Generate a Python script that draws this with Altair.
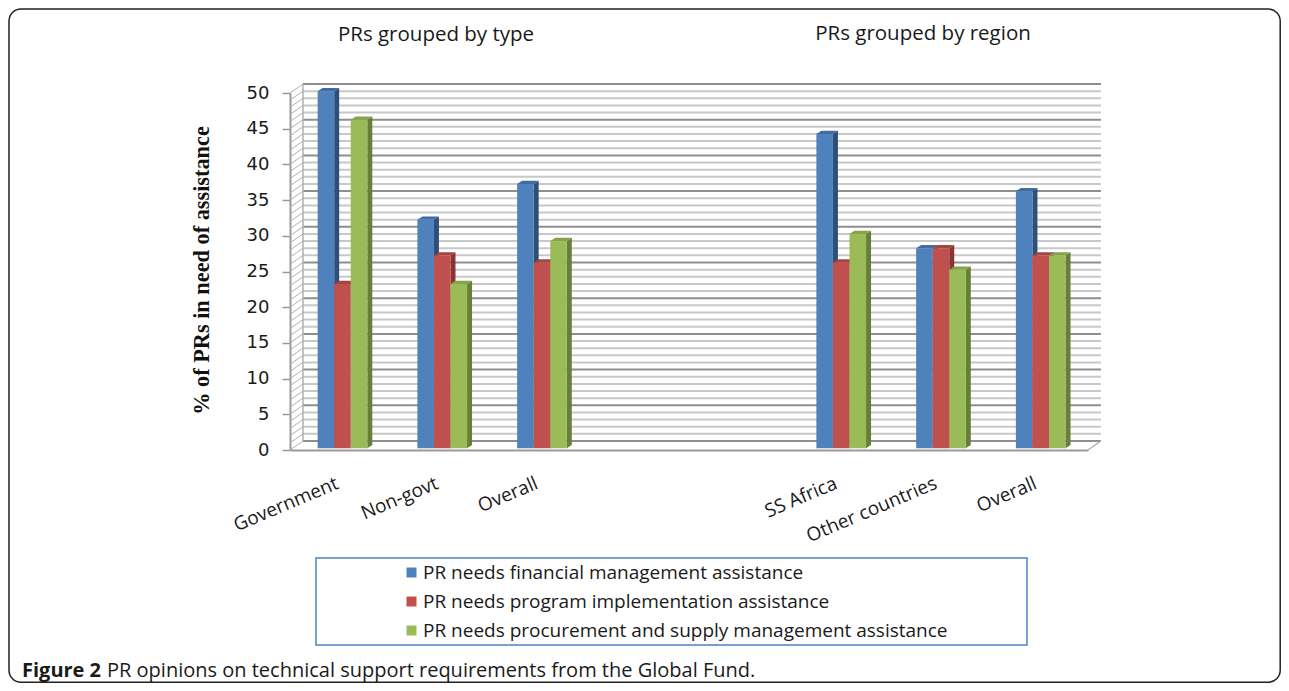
import json
import altair as alt
import pandas as pd

# ---- data ----
categories = ["Government", "Non-govt", "Overall", "SS Africa", "Other countries", "Overall"]
slots = [0, 1, 2, 5, 6, 7]
series = ["PR needs financial management assistance",
          "PR needs program implementation assistance",
          "PR needs procurement and supply management assistance"]
financial = [50, 32, 37, 44, 28, 36]
program = [23, 27, 26, 26, 28, 27]
procurement = [46, 23, 29, 30, 25, 27]
y_ticks = [0, 5, 10, 15, 20, 25, 30, 35, 40, 45, 50]
panel_titles = ["PRs grouped by type", "PRs grouped by region"]
y_title = "% of PRs in need of assistance"
caption_bold = "Figure 2"
caption_rest = "PR opinions on technical support requirements from the Global Fund."

front = ["#4F81BD", "#C0504D", "#9BBB59"]
side = ["#2F4F78", "#8A3533", "#66803A"]
top = ["#3F6CA3", "#A64442", "#87A34A"]
GRID_MAJOR, GRID_MINOR, WALL = "#8E8E8E", "#C8C8C8", "#B0B0B0"
FONT = "Open Sans"

# ---- geometry in data units ----
W, H = 798, 357
XS = alt.Scale(domain=[0, 8], nice=False, zero=False)
YS = alt.Scale(domain=[0, 50], nice=False, zero=False)
BACK_X, BACK_Y = 0.13, 1.26      # depth of the back wall
BAR_W, BAR_START = 0.166, 0.277
DX, DY, LIFT = 0.05, 0.46, 0.25  # bar depth and lift off the floor

centres = [s + 0.5 for s in slots]
lookup = json.dumps({str(c): n for c, n in zip(centres, categories)})
X_AXIS = alt.Axis(
    values=centres, labelExpr=f"{lookup}[datum.value]", title=None, grid=False,
    ticks=False, domainColor="#9A9A9A", domainWidth=2, labelAngle=-23, labelAlign="right",
    labelBaseline="middle", labelPadding=32, labelOffset=-3, labelFont=FONT, labelFontSize=19,
    labelColor="#1A1A1A", labelOverlap=False, labelFlush=False, labelBound=False)
Y_AXIS = alt.Axis(
    values=y_ticks, title=y_title, titleFont="Liberation Serif", titleFontWeight="bold",
    titleFontSize=22.3, titleColor="#111111", titleX=-77, titleY=177, grid=False,
    domainColor="#9A9A9A", domainWidth=2, tickColor="#9A9A9A", tickSize=8, tickWidth=1.5,
    labelPadding=13, labelFont="DejaVu Sans", labelFontSize=18, labelColor="#1A1A1A",
    labelOverlap=False, labelFlush=False, labelBound=False)

x_ax = alt.X("x:Q", scale=XS, axis=X_AXIS)
y_ax = alt.Y("y:Q", scale=YS, axis=Y_AXIS)

# ---- walls ----
levels = list(range(0, 51))
grid = pd.DataFrame({"v": levels})
grid["y"] = grid.v + BACK_Y
grid["x"] = BACK_X
grid["x2"] = 8 + BACK_X
grid["fy"] = grid.v.astype(float)
grid["fx"] = 0.0
minor = grid[grid.v % 5 != 0]
major = grid[grid.v % 5 == 0]


def rules(df, color, width):
    return alt.Chart(df).mark_rule(color=color, strokeWidth=width).encode(
        x=x_ax, x2="x2:Q", y=y_ax)


diag = alt.Chart(grid).mark_rule(color=WALL, strokeWidth=1).encode(
    x=alt.X("fx:Q", scale=XS, axis=X_AXIS), x2="x:Q",
    y=alt.Y("fy:Q", scale=YS, axis=Y_AXIS), y2="y:Q")
edges = pd.DataFrame({"x": [BACK_X, 8.0], "x2": [BACK_X, 8 + BACK_X],
                      "y": [BACK_Y, 0.0], "y2": [50 + BACK_Y, BACK_Y]})
edge = alt.Chart(edges).mark_rule(color=WALL, strokeWidth=1.5).encode(
    x=x_ax, x2="x2:Q", y=y_ax, y2="y2:Q")

# ---- 3-D bars, one layer trio per series so that each hides the one before ----
bar_layers = []
for i, (name, vals) in enumerate(zip(series, [financial, program, procurement])):
    rows_f, rows_s, rows_t = [], [], []
    for slot, cat, v in zip(slots, categories, vals):
        a = slot + BAR_START + i * BAR_W
        b = a + BAR_W
        yt = v + LIFT
        rows_f.append({"x": a, "x2": b, "y": yt, "y2": LIFT, "series": name})
        rows_s += [{"x": b, "y": yt, "y2": LIFT, "id": slot},
                   {"x": b + DX, "y": yt + DY, "y2": LIFT + DY, "id": slot}]
        rows_t += [{"x": a, "x2": b, "y": yt, "id": slot},
                   {"x": a + DX, "x2": b + DX, "y": yt + DY, "id": slot}]
    bar_layers.append(alt.Chart(pd.DataFrame(rows_s)).mark_area(
        orient="vertical", color=side[i]).encode(x=x_ax, y=y_ax, y2="y2:Q", detail="id:N"))
    bar_layers.append(alt.Chart(pd.DataFrame(rows_t)).mark_area(
        orient="horizontal", color=top[i]).encode(x=x_ax, x2="x2:Q", y=y_ax, detail="id:N"))
    bar_layers.append(alt.Chart(pd.DataFrame(rows_f)).mark_rect().encode(
        x=x_ax, x2="x2:Q", y=y_ax, y2="y2:Q",
        color=alt.Color("series:N", scale=alt.Scale(domain=series, range=front), legend=alt.Legend(
            orient="none", legendX=112, legendY=470, title=None, symbolType="square",
            symbolSize=100, symbolStrokeWidth=0, labelFont=FONT, labelFontSize=19, labelColor="#1A1A1A",
            labelLimit=700, rowPadding=9, labelOffset=2, values=series))))

# ---- text and boxes placed on the page ----
one = pd.DataFrame({"a": [1]})


def label(text, px, py, size, align="center", weight="normal", font=FONT, color="#1A1A1A"):
    return alt.Chart(pd.DataFrame({"t": [text]})).mark_text(
        align=align, baseline="middle", fontSize=size, fontWeight=weight, font=font, color=color
    ).encode(text="t:N", x=alt.value(px - 290), y=alt.value(py - 93))


def box(x0, x1, y0, y1, color, width, radius=0):
    return alt.Chart(one).mark_rect(fillOpacity=0, stroke=color, strokeWidth=width,
                                    cornerRadius=radius).encode(
        x=alt.value(x0 - 290), x2=alt.value(x1 - 290), y=alt.value(y0 - 93), y2=alt.value(y1 - 93))


frame = box(9, 1280.2, 9, 682.2, "#222222", 1.5, 12)
legend_box = box(316, 1027, 558, 645, "#4F81BD", 1.5)
texts = [label(panel_titles[0], 436, 35, 20.5), label(panel_titles[1], 923, 34, 20.5),
         label(caption_bold, 22, 671, 20, "left", "bold"),
         label(caption_rest, 107, 671, 20, "left", "normal")]

chart = alt.layer(
    frame, legend_box, rules(minor, GRID_MINOR, 2), rules(major, GRID_MAJOR, 2), diag, edge,
    *bar_layers, *texts
).properties(
    width=W, height=H,
    autosize=alt.AutoSizeParams(type="none"),
    padding={"left": 282, "top": 85, "right": 193, "bottom": 233},
    background="white",
).configure_view(stroke=None).resolve_scale(color="shared")

chart.save("out.html", embed_options={"renderer": "svg", "actions": False})
